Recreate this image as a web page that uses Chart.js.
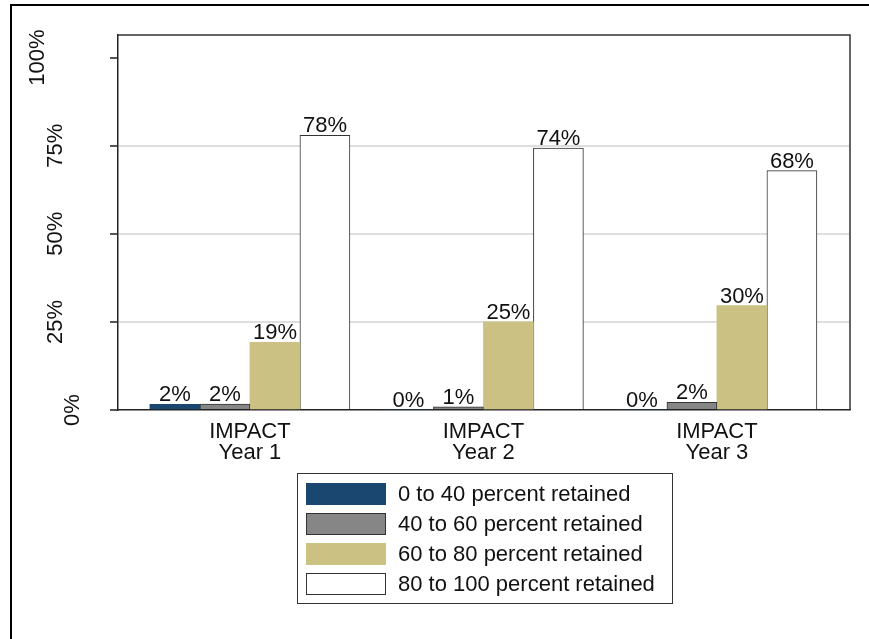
<!DOCTYPE html>
<html>
<head>
<meta charset="utf-8">
<script src="https://cdn.jsdelivr.net/npm/chart.js@4"></script>
<style>html,body{margin:0;padding:0;background:#fff}canvas{display:block}</style>
</head>
<body>
<canvas id="c" width="869" height="639"></canvas>
<script>
const categories = [['IMPACT', 'Year 1'], ['IMPACT', 'Year 2'], ['IMPACT', 'Year 3']];
const seriesNames = ['0 to 40 percent retained', '40 to 60 percent retained', '60 to 80 percent retained', '80 to 100 percent retained'];
const s0to40 = [1.6, 0, 0];
const s40to60 = [1.7, 0.9, 2.2];
const s60to80 = [19.2, 25.0, 29.6];
const s80to100 = [77.9, 74.3, 67.9];
const yTicks = [0, 25, 50, 75, 100];
const yMax = 106.4;

const FONT = "'Liberation Sans', Arial, sans-serif";
const FSIZE = 22;
const colors = ['#1a476f', '#868686', '#cac182', '#ffffff'];
const borders = ['#1a476f', '#333333', '#cac182', '#333333'];
const borderWidths = [0, 1, 0, 1];
const seriesValues = [s0to40, s40to60, s60to80, s80to100];

const datasets = seriesNames.map((name, k) => ({
  label: name,
  data: seriesValues[k].map((v, i) => ({ x: i, y: v })),
  backgroundColor: colors[k],
  borderColor: borders[k],
  borderWidth: borderWidths[k],
  barThickness: 50
}));

const pageDecor = {
  id: 'pageDecor',
  afterDraw(chart) {
    const ctx = chart.ctx;
    ctx.save();
    ctx.fillStyle = '#000';
    ctx.fillRect(10, 4, 2, chart.height - 4);
    ctx.fillRect(10, 4, chart.width - 10, 2);
    ctx.restore();
  }
};

const frame = {
  id: 'frame',
  afterDatasetsDraw(chart) {
    const { ctx, chartArea: a } = chart;
    ctx.save();
    ctx.strokeStyle = '#333';
    ctx.lineWidth = 1.5;
    ctx.beginPath();
    ctx.moveTo(a.left, a.top);
    ctx.lineTo(a.right, a.top);
    ctx.lineTo(a.right, a.bottom);
    ctx.stroke();
    ctx.restore();
  }
};

const valueLabels = {
  id: 'valueLabels',
  afterDatasetsDraw(chart) {
    const ctx = chart.ctx;
    ctx.save();
    ctx.font = FSIZE + 'px ' + FONT;
    ctx.fillStyle = '#111';
    ctx.textAlign = 'center';
    ctx.textBaseline = 'alphabetic';
    chart.data.datasets.forEach((ds, di) => {
      chart.getDatasetMeta(di).data.forEach((el, i) => {
        const v = ds.data[i].y;
        ctx.fillText(Math.round(v) + '%', el.x, el.y - 3);
      });
    });
    ctx.restore();
  }
};

const boxLegend = {
  id: 'boxLegend',
  afterDraw(chart) {
    const { ctx, chartArea: a } = chart;
    const w = 375, h = 130;
    const left = Math.round((a.left + a.right) / 2 - w / 2);
    const top = a.bottom + 63;
    ctx.save();
    ctx.strokeStyle = '#333';
    ctx.lineWidth = 1;
    ctx.strokeRect(left + 0.5, top + 0.5, w, h);
    ctx.font = FSIZE + 'px ' + FONT;
    ctx.textBaseline = 'middle';
    ctx.textAlign = 'left';
    chart.data.datasets.forEach((ds, i) => {
      const cy = top + 21 + i * 30;
      const bx = left + 9, by = cy - 11;
      ctx.fillStyle = ds.backgroundColor;
      ctx.fillRect(bx, by, 80, 22);
      if (ds.borderWidth) {
        ctx.strokeStyle = ds.borderColor;
        ctx.lineWidth = 1;
        ctx.strokeRect(bx + 0.5, by + 0.5, 79, 21);
      }
      ctx.fillStyle = '#111';
      ctx.fillText(ds.label, left + 101, cy + 1);
    });
    ctx.restore();
  }
};

new Chart(document.getElementById('c'), {
  type: 'bar',
  data: { datasets },
  plugins: [pageDecor, frame, valueLabels, boxLegend],
  options: {
    responsive: false,
    animation: false,
    layout: { padding: { left: 0, top: 35, right: 19, bottom: 0 } },
    plugins: { legend: { display: false }, tooltip: { enabled: false } },
    scales: {
      x: {
        type: 'linear',
        min: -0.565,
        max: 2.57,
        offset: false,
        grid: { display: false, drawTicks: false, offset: false },
        border: { display: true, color: '#222', width: 1.5 },
        afterBuildTicks: (s) => { s.ticks = categories.map((c, i) => ({ value: i })); },
        afterFit: (s) => { s.height = 229; s.paddingLeft = 0; s.paddingRight = 0; },
        ticks: {
          padding: 11,
          autoSkip: false,
          maxRotation: 0,
          color: '#111',
          font: { family: FONT, size: FSIZE, lineHeight: 0.96 },
          callback: (v, i) => categories[i]
        }
      },
      y: {
        min: 0,
        max: yMax,
        afterBuildTicks: (s) => { s.ticks = yTicks.map(v => ({ value: v })); },
        afterFit: (s) => { s.width = 118; s.paddingTop = 0; s.paddingBottom = 0; },
        grid: {
          color: (c) => (c.tick && (c.tick.value === 0 || c.tick.value === 100)) ? 'rgba(0,0,0,0)' : '#dedede',
          lineWidth: 2,
          tickColor: '#555',
          tickWidth: 2,
          tickLength: 8
        },
        border: { display: true, color: '#222', width: 1.5 },
        ticks: {
          minRotation: 90,
          maxRotation: 90,
          crossAlign: 'center',
          padding: 26,
          color: '#111',
          font: { family: FONT, size: FSIZE, lineHeight: 0.795 },
          callback: (v) => {
            const s = v + '%';
            const lines = ['', '', ''];
            lines[Math.max(0, Math.min(2, 4 - s.length))] = s;
            return lines;
          }
        }
      }
    }
  }
});
</script>
</body>
</html>
